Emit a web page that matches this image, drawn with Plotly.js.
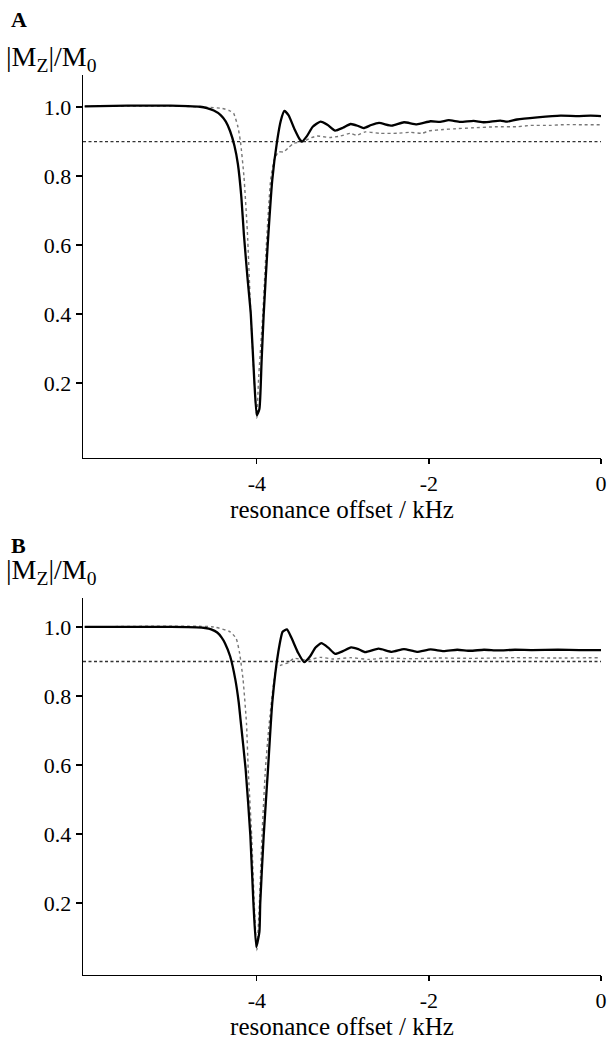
<!DOCTYPE html>
<html>
<head>
<meta charset="utf-8">
<script src="https://cdn.plot.ly/plotly-3.0.1.min.js"></script>
<style>html,body{margin:0;padding:0;background:#fff;}#chart{width:610px;height:1043px;}</style>
</head>
<body>
<div id="chart"></div>
<script>
// Panel A – solid curve
const aSolidX = [-6.0,-5.5,-5.0,-4.8,-4.66,-4.58,-4.5,-4.42,-4.36,-4.31,-4.26,-4.22,-4.18,-4.15,-4.11,-4.07,-4.03,-4.0,-3.97,-3.945,-3.92,-3.875,-3.82,-3.765,-3.72,-3.68,-3.63,-3.56,-3.5,-3.475,-3.42,-3.35,-3.26,-3.18,-3.09,-3.0,-2.91,-2.83,-2.76,-2.67,-2.58,-2.43,-2.29,-2.14,-1.98,-1.87,-1.77,-1.635,-1.48,-1.36,-1.17,-1.09,-0.976,-0.74,-0.47,-0.28,-0.12,0];
const aSolidY = [1.002,1.004,1.004,1.003,1.001,0.997,0.99,0.977,0.958,0.93,0.888,0.835,0.74,0.63,0.51,0.40,0.21,0.107,0.125,0.26,0.40,0.595,0.79,0.90,0.962,0.989,0.976,0.935,0.906,0.90,0.915,0.943,0.958,0.949,0.932,0.94,0.951,0.946,0.939,0.948,0.954,0.946,0.956,0.95,0.959,0.957,0.962,0.957,0.96,0.956,0.961,0.958,0.964,0.97,0.975,0.974,0.975,0.974];
// Panel A – dotted curve
const aDotX = [-6.0,-5.0,-4.6,-4.4,-4.32,-4.27,-4.22,-4.19,-4.15,-4.11,-4.07,-4.03,-4.0,-3.98,-3.93,-3.89,-3.86,-3.84,-3.8,-3.75,-3.69,-3.63,-3.57,-3.46,-3.38,-3.3,-3.15,-3.03,-2.91,-2.84,-2.74,-2.565,-2.37,-2.22,-2.08,-2.0,-1.83,-1.71,-1.48,-1.21,-0.976,-0.82,-0.59,-0.435,-0.2,0];
const aDotY = [1.002,1.003,1.0,0.996,0.99,0.982,0.943,0.90,0.80,0.64,0.40,0.21,0.098,0.21,0.403,0.595,0.72,0.788,0.846,0.87,0.87,0.883,0.895,0.90,0.91,0.916,0.912,0.916,0.924,0.918,0.928,0.924,0.924,0.927,0.924,0.931,0.935,0.937,0.94,0.943,0.943,0.947,0.947,0.949,0.949,0.949];
// Panel B – solid curve
const bSolidX = [-6.0,-5.0,-4.7,-4.6,-4.53,-4.46,-4.41,-4.37,-4.31,-4.25,-4.21,-4.19,-4.13,-4.075,-4.04,-4.006,-3.97,-3.96,-3.92,-3.87,-3.82,-3.75,-3.7,-3.65,-3.6,-3.52,-3.45,-3.38,-3.32,-3.25,-3.17,-3.09,-3.0,-2.905,-2.82,-2.74,-2.585,-2.43,-2.29,-2.14,-1.98,-1.83,-1.67,-1.52,-1.36,-1.2,-1.0,-0.8,-0.5,-0.25,0];
const bSolidY = [1.0,1.0,0.999,0.997,0.993,0.984,0.97,0.953,0.915,0.848,0.781,0.733,0.588,0.395,0.202,0.072,0.116,0.2,0.395,0.588,0.781,0.928,0.986,0.993,0.97,0.925,0.898,0.915,0.94,0.953,0.94,0.922,0.93,0.941,0.936,0.927,0.937,0.928,0.936,0.928,0.935,0.93,0.934,0.931,0.934,0.932,0.934,0.933,0.934,0.933,0.933];
// Panel B – dotted curve
const bDotX = [-6.0,-4.5,-4.31,-4.24,-4.2,-4.16,-4.12,-4.1,-4.06,-4.03,-4.0,-3.97,-3.94,-3.9,-3.86,-3.81,-3.77,-3.71,-3.63,-3.57,-3.42,-3.26,-3.11,-2.91,-2.7,-2.5,-2.2,-1.9,-1.5,-1.0,-0.5,0];
const bDotY = [1.0,1.0,0.986,0.967,0.924,0.848,0.72,0.588,0.395,0.2,0.062,0.2,0.395,0.588,0.71,0.827,0.883,0.89,0.897,0.909,0.904,0.912,0.907,0.911,0.906,0.91,0.908,0.91,0.909,0.911,0.91,0.911];
// Reference level
const refLevel = 0.9;
const xRange = [-6.02, 0];
const xTicks = [-4, -2, 0];
const xTickText = ['-4', '-2', '0'];
const yTicks = [0.2, 0.4, 0.6, 0.8, 1.0];
const yTickText = ['0.2', '0.4', '0.6', '0.8', '1.0'];
const xTitle = 'resonance offset / kHz';
const yTitle = '|M<sub>Z</sub>|/M<sub>0</sub>';
const panelLabels = ['A', 'B'];

const FONT = '"Liberation Serif", "Times New Roman", Times, serif';
const solid = {color: '#000', width: 2.3, shape: 'spline', smoothing: 0.5};
const dotted = {color: '#777', width: 1.4, dash: 'dot', shape: 'spline', smoothing: 0.5};
const dashed = {color: '#333', width: 1.4, dash: '3px,2.5px'};

const traces = [
  {x: xRange, y: [refLevel, refLevel], xaxis: 'x', yaxis: 'y', mode: 'lines', line: dashed},
  {x: aDotX, y: aDotY, xaxis: 'x', yaxis: 'y', mode: 'lines', line: dotted},
  {x: aSolidX, y: aSolidY, xaxis: 'x', yaxis: 'y', mode: 'lines', line: solid},
  {x: xRange, y: [refLevel, refLevel], xaxis: 'x2', yaxis: 'y2', mode: 'lines', line: dashed},
  {x: bDotX, y: bDotY, xaxis: 'x2', yaxis: 'y2', mode: 'lines', line: dotted},
  {x: bSolidX, y: bSolidY, xaxis: 'x2', yaxis: 'y2', mode: 'lines', line: solid}
];

function xax(anchor) {
  return {
    anchor: anchor, domain: [0, 1], range: xRange, showgrid: false, zeroline: false,
    showline: true, linecolor: '#000', linewidth: 1.3,
    ticks: 'outside', ticklen: 5, tickwidth: 1.3, tickcolor: '#000',
    tickvals: xTicks, ticktext: xTickText,
    tickfont: {family: FONT, size: 22, color: '#000'},
    title: {text: xTitle, font: {family: FONT, size: 25, color: '#000'}, standoff: 0}
  };
}
function yax(anchor, domain, range) {
  return {
    anchor: anchor, domain: domain, range: range, showgrid: false, zeroline: false,
    showline: true, linecolor: '#000', linewidth: 1.3,
    ticks: 'outside', ticklen: 6, tickwidth: 1.3, tickcolor: '#000',
    tickvals: yTicks, ticktext: yTickText,
    tickfont: {family: FONT, size: 22, color: '#000'}
  };
}

const H = 900, B0 = 975;
function py(p) { return (B0 - p) / H; }
function px(p) { return (p - 83) / 518; }

const layout = {
  width: 610, height: 1043,
  margin: {l: 83, r: 9, t: 75, b: 68},
  paper_bgcolor: '#fff', plot_bgcolor: '#fff',
  showlegend: false,
  font: {family: FONT, color: '#000'},
  xaxis: xax('y'),
  yaxis: yax('x', [py(458), 1], [-0.017, 1.093]),
  xaxis2: xax('y2'),
  yaxis2: yax('x2', [0, py(598)], [-0.009, 1.084]),
  annotations: [
    {text: '<b>' + panelLabels[0] + '</b>', xref: 'paper', yref: 'paper', x: px(9), y: py(5), xanchor: 'left', yanchor: 'top', showarrow: false, font: {family: FONT, size: 22, color: '#000'}},
    {text: yTitle, xref: 'paper', yref: 'paper', x: px(4), y: py(39), xanchor: 'left', yanchor: 'top', showarrow: false, font: {family: FONT, size: 28, color: '#000'}},
    {text: '<b>' + panelLabels[1] + '</b>', xref: 'paper', yref: 'paper', x: px(9), y: py(531), xanchor: 'left', yanchor: 'top', showarrow: false, font: {family: FONT, size: 22, color: '#000'}},
    {text: yTitle, xref: 'paper', yref: 'paper', x: px(4), y: py(552), xanchor: 'left', yanchor: 'top', showarrow: false, font: {family: FONT, size: 28, color: '#000'}}
  ]
};

Plotly.newPlot('chart', traces, layout, {staticPlot: true, displayModeBar: false});
</script>
</body>
</html>
